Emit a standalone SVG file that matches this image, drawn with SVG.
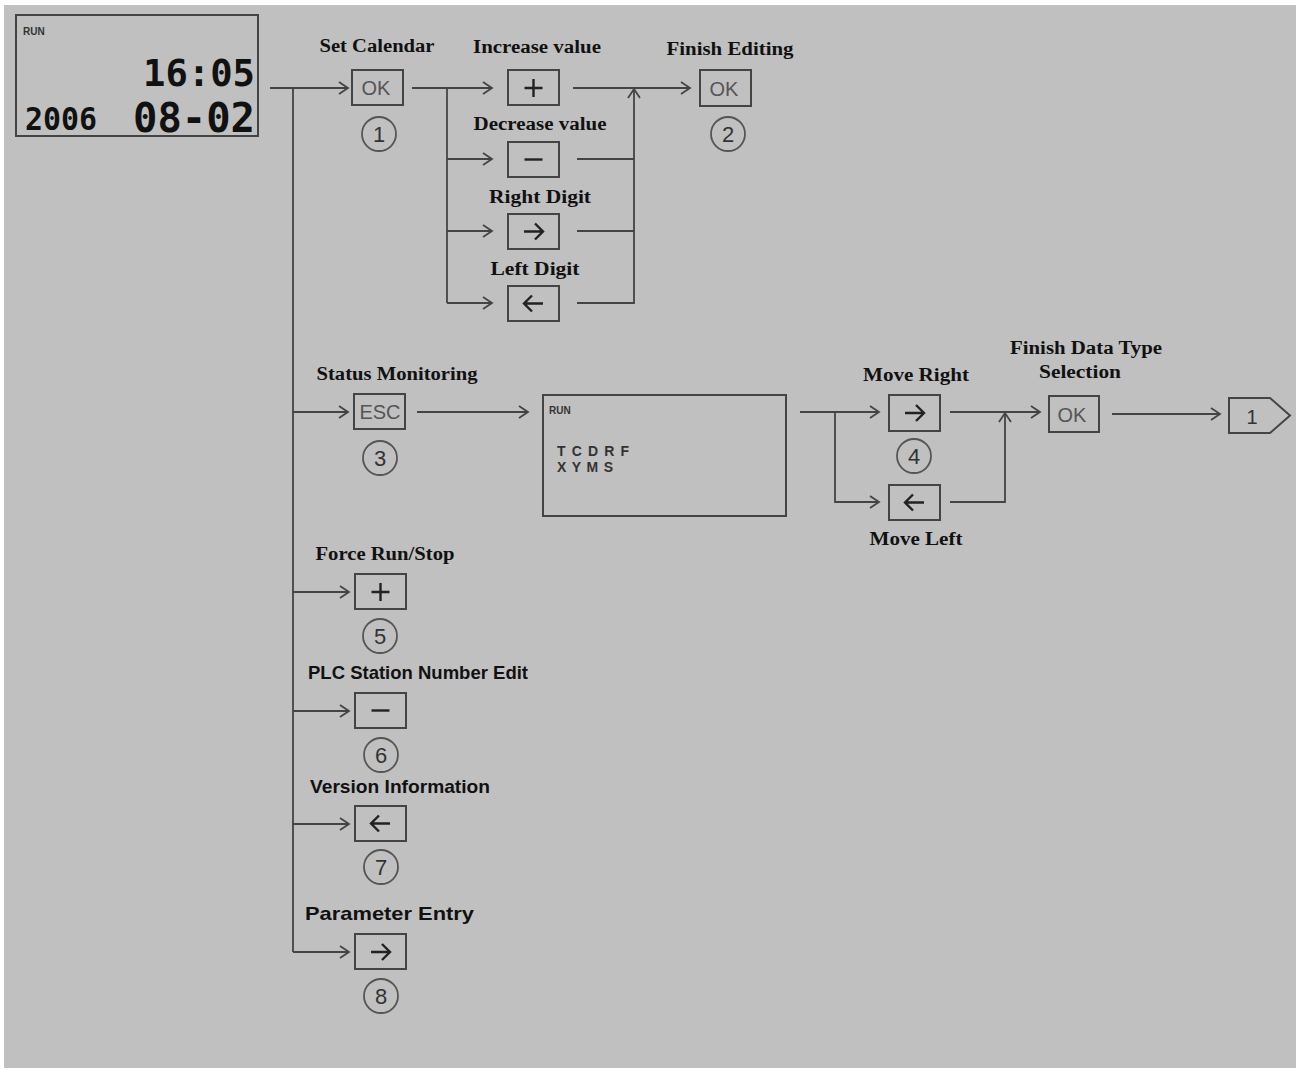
<svg xmlns="http://www.w3.org/2000/svg" width="1296" height="1070" viewBox="0 0 1296 1070">
<style>
.lbl{font-family:"Liberation Serif","Times New Roman",serif;font-weight:bold;font-size:18px;fill:#111;}
.sl{font-family:"Liberation Sans",Arial,sans-serif;font-weight:bold;font-size:19px;fill:#111;}
.btn{fill:none;stroke:#444;stroke-width:2;}
.bt{font-family:"Liberation Sans",Arial,sans-serif;font-size:20px;fill:#555;text-anchor:middle;}
.sym{fill:none;stroke:#222;stroke-width:2.4;}
.circ{fill:none;stroke:#555;stroke-width:1.8;}
.num{font-family:"Liberation Sans",Arial,sans-serif;font-size:22px;fill:#333;text-anchor:middle;}
.ln{fill:none;stroke:#444;stroke-width:1.8;}
.lcd{font-family:"DejaVu Sans Mono","Liberation Mono",monospace;font-weight:bold;fill:#111;}
.small{font-family:"Liberation Sans",Arial,sans-serif;font-weight:bold;font-size:10px;fill:#333;}
.reg{font-family:"Liberation Sans",Arial,sans-serif;font-weight:bold;font-size:14px;fill:#333;}
</style>
<defs>
<marker id="ah" markerWidth="12" markerHeight="14" refX="10" refY="7" orient="auto" markerUnits="userSpaceOnUse">
<path d="M1,1 L10,7 L1,13" fill="none" stroke="#444" stroke-width="1.8"/>
</marker>
</defs>
<rect x="0" y="0" width="1296" height="1070" fill="#ffffff"/>
<rect x="4" y="5" width="1292" height="1063" fill="#c0c0c0"/>

<g id="lcd-main">
<rect x="16" y="15" width="242" height="121" fill="none" stroke="#444" stroke-width="2"/>
<text x="23" y="35" class="small">RUN</text>
<text x="143" y="86" class="lcd" font-size="38" textLength="112" lengthAdjust="spacingAndGlyphs">16:05</text>
<text x="25" y="130" class="lcd" font-size="32" textLength="72" lengthAdjust="spacingAndGlyphs">2006</text>
<text x="133" y="132" class="lcd" font-size="40" textLength="122" lengthAdjust="spacingAndGlyphs">08-02</text>
</g>

<g id="connectors">
<path class="ln" d="M270,88 H293 V952"/>
<path class="ln" d="M293,88 H348" marker-end="url(#ah)"/>
<path class="ln" d="M412,88 H492" marker-end="url(#ah)"/>
<path class="ln" d="M447,88 V303"/>
<path class="ln" d="M447,159 H492" marker-end="url(#ah)"/>
<path class="ln" d="M447,231 H492" marker-end="url(#ah)"/>
<path class="ln" d="M447,303 H492" marker-end="url(#ah)"/>
<path class="ln" d="M573,88 H690" marker-end="url(#ah)"/>
<path class="ln" d="M577,159 H634"/>
<path class="ln" d="M577,231 H634"/>
<path class="ln" d="M577,303 H634 V89" marker-end="url(#ah)"/>
<path class="ln" d="M293,412 H348" marker-end="url(#ah)"/>
<path class="ln" d="M417,412 H528" marker-end="url(#ah)"/>
<path class="ln" d="M800,412 H879" marker-end="url(#ah)"/>
<path class="ln" d="M835,412 V502 H879" marker-end="url(#ah)"/>
<path class="ln" d="M950,412 H1040" marker-end="url(#ah)"/>
<path class="ln" d="M950,502 H1005 V413" marker-end="url(#ah)"/>
<path class="ln" d="M1112,414 H1220" marker-end="url(#ah)"/>
<path class="ln" d="M293,592 H349" marker-end="url(#ah)"/>
<path class="ln" d="M293,711 H349" marker-end="url(#ah)"/>
<path class="ln" d="M293,824 H349" marker-end="url(#ah)"/>
<path class="ln" d="M293,952 H349" marker-end="url(#ah)"/>
</g>

<g id="n1-ok">
<text x="377" y="52" class="lbl" text-anchor="middle" textLength="115" lengthAdjust="spacingAndGlyphs">Set Calendar</text>
<rect x="352" y="70" width="51" height="35" class="btn"/>
<text x="376" y="95" class="bt">OK</text>
<circle cx="379" cy="134" r="17" class="circ"/>
<text x="379" y="142" class="num">1</text>
</g>

<g id="n-plus">
<text x="537" y="53" class="lbl" text-anchor="middle" textLength="128" lengthAdjust="spacingAndGlyphs">Increase value</text>
<rect x="508" y="70" width="51" height="35" class="btn"/>
<path class="sym" d="M533.5,79 V97 M524.5,88 H542.5"/>
</g>

<g id="n-minus">
<text x="540" y="130" class="lbl" text-anchor="middle" textLength="133" lengthAdjust="spacingAndGlyphs">Decrease value</text>
<rect x="508" y="142" width="51" height="35" class="btn"/>
<path class="sym" d="M524.5,159.5 H542.5"/>
</g>

<g id="n-right">
<text x="540" y="203" class="lbl" text-anchor="middle" textLength="102" lengthAdjust="spacingAndGlyphs">Right Digit</text>
<rect x="508" y="214" width="51" height="35" class="btn"/>
<path class="sym" d="M524,231.5 H543 M535,223.5 L543,231.5 L535,239.5"/>
</g>

<g id="n-left">
<text x="535" y="275" class="lbl" text-anchor="middle" textLength="89" lengthAdjust="spacingAndGlyphs">Left Digit</text>
<rect x="508" y="286" width="51" height="35" class="btn"/>
<path class="sym" d="M524,303.5 H543 M532,295.5 L524,303.5 L532,311.5"/>
</g>

<g id="n2-ok">
<text x="730" y="55" class="lbl" text-anchor="middle" textLength="127" lengthAdjust="spacingAndGlyphs">Finish Editing</text>
<rect x="700" y="70" width="51" height="36" class="btn"/>
<text x="724" y="96" class="bt">OK</text>
<circle cx="728" cy="134" r="17" class="circ"/>
<text x="728" y="142" class="num">2</text>
</g>

<g id="n3-esc">
<text x="397" y="380" class="lbl" text-anchor="middle" textLength="161" lengthAdjust="spacingAndGlyphs">Status Monitoring</text>
<rect x="354" y="394" width="51" height="35" class="btn"/>
<text x="380" y="419" class="bt">ESC</text>
<circle cx="380" cy="458" r="17" class="circ"/>
<text x="380" y="466" class="num">3</text>
</g>

<g id="lcd-status">
<rect x="543" y="395" width="243" height="121" fill="none" stroke="#444" stroke-width="2"/>
<text x="549" y="414" class="small">RUN</text>
<text x="557" y="456" class="reg" textLength="72">TCDRF</text>
<text x="557" y="472" class="reg" textLength="56">XYMS</text>
</g>

<g id="n4-right">
<text x="916" y="381" class="lbl" text-anchor="middle" textLength="106" lengthAdjust="spacingAndGlyphs">Move Right</text>
<rect x="889" y="395" width="51" height="36" class="btn"/>
<path class="sym" d="M905,413 H924 M916,405 L924,413 L916,421"/>
<circle cx="914" cy="456" r="17" class="circ"/>
<text x="914" y="464" class="num">4</text>
</g>

<g id="n4-left">
<rect x="889" y="485" width="51" height="35" class="btn"/>
<path class="sym" d="M905,502.5 H924 M913,494.5 L905,502.5 L913,510.5"/>
<text x="916" y="545" class="lbl" text-anchor="middle" textLength="93" lengthAdjust="spacingAndGlyphs">Move Left</text>
</g>

<g id="n-ok-data">
<text x="1086" y="354" class="lbl" text-anchor="middle" textLength="152" lengthAdjust="spacingAndGlyphs">Finish Data Type</text>
<text x="1080" y="378" class="lbl" text-anchor="middle" textLength="82" lengthAdjust="spacingAndGlyphs">Selection</text>
<rect x="1049" y="396" width="50" height="36" class="btn"/>
<text x="1072" y="422" class="bt">OK</text>
</g>

<g id="n-goto1">
<path d="M1229,398 H1270 L1290,415.5 L1270,433 H1229 Z" class="btn"/>
<text x="1252" y="424" class="bt" style="fill:#333">1</text>
</g>

<g id="n5-plus">
<text x="385" y="560" class="lbl" text-anchor="middle" textLength="139" lengthAdjust="spacingAndGlyphs">Force Run/Stop</text>
<rect x="355" y="574" width="51" height="35" class="btn"/>
<path class="sym" d="M380.5,583 V601 M371.5,592 H389.5"/>
<circle cx="380" cy="636" r="17" class="circ"/>
<text x="380" y="644" class="num">5</text>
</g>

<g id="n6-minus">
<text x="308" y="679" class="sl" textLength="220" lengthAdjust="spacingAndGlyphs">PLC Station Number Edit</text>
<rect x="355" y="693" width="51" height="35" class="btn"/>
<path class="sym" d="M371.5,710.5 H389.5"/>
<circle cx="381" cy="755" r="17" class="circ"/>
<text x="381" y="763" class="num">6</text>
</g>

<g id="n7-left">
<text x="310" y="793" class="sl" textLength="180" lengthAdjust="spacingAndGlyphs">Version Information</text>
<rect x="355" y="806" width="51" height="35" class="btn"/>
<path class="sym" d="M371,823.5 H390 M379,815.5 L371,823.5 L379,831.5"/>
<circle cx="381" cy="867" r="17" class="circ"/>
<text x="381" y="875" class="num">7</text>
</g>

<g id="n8-right">
<text x="305" y="920" class="sl" font-weight="600" textLength="169" lengthAdjust="spacingAndGlyphs">Parameter Entry</text>
<rect x="355" y="934" width="51" height="35" class="btn"/>
<path class="sym" d="M371,952 H390 M382,944 L390,952 L382,960"/>
<circle cx="381" cy="996" r="17" class="circ"/>
<text x="381" y="1004" class="num">8</text>
</g>
</svg>
